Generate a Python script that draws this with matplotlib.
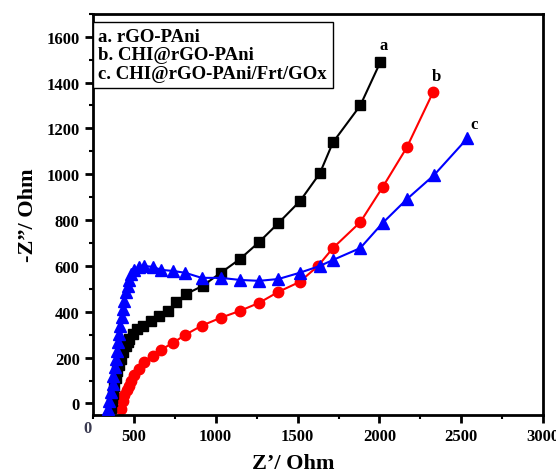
import matplotlib.pyplot as plt
from matplotlib.ticker import MultipleLocator

plt.rcParams['font.family'] = ['Liberation Serif', 'DejaVu Serif']
plt.rcParams['font.weight'] = 'bold'

# a. rGO-PAni
xa = [358, 365, 372, 380, 390, 400, 410, 420, 435, 450, 463, 469, 494, 519, 556,
      605, 654, 710, 760, 821, 920, 1031, 1148, 1265, 1383, 1515, 1636, 1716, 1883, 2006]
ya = [-20, 10, 40, 75, 110, 140, 170, 196, 226, 252, 270, 283, 304, 326, 339,
      361, 383, 404, 443, 478, 513, 570, 630, 704, 787, 883, 1004, 1139, 1300, 1490]

# b. CHI@rGO-PAni
xb = [420, 432, 438, 457, 469, 481, 500, 531, 562, 617, 667, 741, 815, 914,
      1031, 1148, 1265, 1383, 1512, 1625, 1716, 1883, 2019, 2167, 2327]
yb = [-25, 13, 35, 57, 78, 100, 126, 152, 183, 209, 235, 265, 300, 339,
      374, 404, 439, 487, 530, 600, 678, 791, 943, 1117, 1357]

# c. CHI@rGO-PAni/Frt/GOx
xc = [340, 346, 358, 370, 376, 383, 389, 395, 401, 407, 414, 426, 432, 438, 451,
      463, 469, 481, 500, 531, 562, 617, 667, 741, 815, 914, 1031, 1148, 1265,
      1383, 1512, 1636, 1716, 1883, 2019, 2167, 2333, 2537]
yc = [-25, 13, 52, 87, 122, 161, 196, 230, 270, 304, 339, 378, 413, 448, 487,
      513, 539, 565, 583, 596, 600, 596, 583, 578, 570, 548, 548, 539, 535,
      543, 570, 600, 626, 678, 787, 891, 996, 1157]

legend_lines = ['a. rGO-PAni', 'b. CHI@rGO-PAni', 'c. CHI@rGO-PAni/Frt/GOx']

fig = plt.figure(figsize=(5.56, 4.77), dpi=100)
ax = fig.add_axes([0.167, 0.128, 0.81, 0.841])

ax.plot(xa, ya, 'k-', marker='s', ms=6.5, lw=1.5, zorder=3)
ax.plot(xb, yb, '-', color='#ff0000', marker='o', ms=7.5, lw=1.5, zorder=2)
ax.plot(xc, yc, '-', color='#0000ff', marker='^', ms=8.5, lw=1.5, zorder=4)

ax.text(2025, 1545, 'a', fontsize=12, fontweight='bold', ha='center')
ax.text(2346, 1410, 'b', fontsize=12, fontweight='bold', ha='center')
ax.text(2580, 1200, 'c', fontsize=12, fontweight='bold', ha='center')

ax.text(0.012, 0.965, '\n'.join(legend_lines), transform=ax.transAxes,
        fontsize=13.5, fontweight='bold', va='top', ha='left', linespacing=1.12,
        bbox=dict(boxstyle='square,pad=0.3', fc='white', ec='black', lw=1))

ax.set_xlim(250, 3000)
ax.set_ylim(-50, 1700)
ax.xaxis.set_minor_locator(MultipleLocator(250))
ax.yaxis.set_major_locator(MultipleLocator(200))
ax.yaxis.set_minor_locator(MultipleLocator(100))
ax.set_xticks([500, 1000, 1500, 2000, 2500, 3000])
ax.text(-0.012, -0.032, '0', transform=ax.transAxes, fontsize=12,
        fontweight='bold', ha='center', va='center', color='#3a3a50')

ax.tick_params(which='major', direction='out', length=6, width=2, labelsize=12)
ax.tick_params(which='minor', direction='out', length=3, width=1.5)
for lab in ax.get_xticklabels() + ax.get_yticklabels():
    lab.set_fontweight('bold')
for s in ax.spines.values():
    s.set_linewidth(2)

ax.set_xlabel('Z\u2019/ Ohm', fontsize=16, fontweight='bold')
ax.xaxis.set_label_coords(0.444, -0.095)
ax.set_ylabel('-Z\u201d/ Ohm', fontsize=16, fontweight='bold', labelpad=6)

fig.savefig('out.png', dpi=100)
